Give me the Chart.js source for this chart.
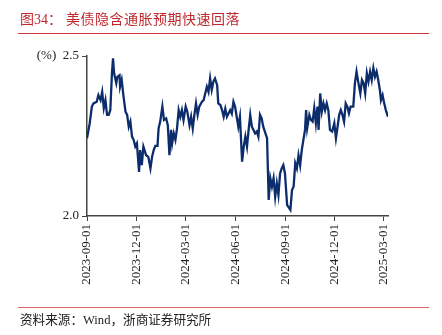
<!DOCTYPE html>
<html>
<head>
<meta charset="utf-8">
<script src="https://cdn.jsdelivr.net/npm/chart.js@4/dist/chart.umd.min.js"></script>
<style>
    body { margin: 0; background: #fff; }
    #wrap { position: relative; width: 442px; height: 335px; overflow: hidden; }
    #chart { position: absolute; left: 0; top: 0; }
    .title {
        position: absolute; left: 20px; top: 11px;
        font: 14px/17px "Liberation Serif", "Noto Sans CJK SC", serif;
        color: #c0282e; white-space: nowrap;
    }
    .title .main { margin-left: 4px; letter-spacing: 0.5px; }
    .rule { position: absolute; left: 18px; width: 411px; height: 1.5px; }
    .source {
        position: absolute; left: 20px; top: 312px;
        font: 12.6px/16px "Liberation Serif", "Noto Sans CJK SC", serif;
        color: #222; white-space: nowrap;
    }
</style>
</head>
<body>
<div id="wrap">
    <canvas id="chart" width="442" height="335"></canvas>
    <div class="title">图34：<span class="main">美债隐含通胀预期快速回落</span></div>
    <div class="rule" style="top:32.5px;background:#d03434;"></div>
    <div class="rule" style="top:306.5px;background:#e06262;"></div>
    <div class="source">资料来源：Wind，浙商证券研究所</div>
</div>
<script>
// calendar days counted from 2023-09-01
const START = "2023-09-01";
const dayOffsets = [0, 5, 9, 12, 18, 21, 25, 28, 31, 34, 37, 40, 43, 46, 48, 50, 54, 56, 60, 61, 64, 67, 71, 74, 77, 80, 83, 86, 89, 92, 96, 98, 101, 104, 109, 113, 117, 120, 123, 126, 130, 132, 135, 139, 142, 146, 149, 152, 155, 157, 160, 163, 166, 169, 172, 175, 178, 182, 185, 189, 192, 195, 198, 201, 204, 207, 212, 215, 218, 221, 224, 227, 230, 233, 236, 240, 242, 246, 249, 252, 255, 258, 264, 267, 270, 273, 276, 279, 282, 286, 289, 292, 295, 298, 301, 304, 307, 310, 313, 316, 319, 322, 325, 329, 332, 335, 338, 341, 344, 347, 350, 353, 356, 359, 362, 365, 369, 371, 375, 378, 381, 384, 387, 390, 393, 396, 399, 402, 404, 406, 410, 413, 416, 419, 422, 425, 427, 430, 433, 436, 439, 442, 445, 448, 452, 456, 459, 462, 465, 468, 471, 474, 477, 480, 483, 486, 491, 494, 497, 500, 504, 507, 510, 513, 516, 519, 522, 525, 528, 531, 534, 537, 540, 542, 545, 548, 551, 555];

// 10Y breakeven inflation, %
const breakeven = [2.243, 2.29, 2.342, 2.352, 2.357, 2.378, 2.362, 2.388, 2.337, 2.362, 2.316, 2.316, 2.331, 2.446, 2.493, 2.446, 2.415, 2.435, 2.44, 2.404, 2.425, 2.378, 2.326, 2.316, 2.279, 2.295, 2.248, 2.238, 2.217, 2.227, 2.138, 2.206, 2.159, 2.217, 2.19, 2.185, 2.149, 2.185, 2.206, 2.219, 2.219, 2.274, 2.295, 2.342, 2.30, 2.305, 2.284, 2.19, 2.269, 2.227, 2.258, 2.238, 2.274, 2.331, 2.31, 2.331, 2.30, 2.342, 2.326, 2.284, 2.31, 2.274, 2.316, 2.352, 2.316, 2.342, 2.357, 2.362, 2.383, 2.404, 2.388, 2.43, 2.394, 2.42, 2.43, 2.409, 2.352, 2.347, 2.331, 2.31, 2.335, 2.31, 2.331, 2.32, 2.357, 2.342, 2.31, 2.279, 2.31, 2.17, 2.217, 2.248, 2.217, 2.269, 2.316, 2.279, 2.269, 2.258, 2.264, 2.248, 2.316, 2.305, 2.279, 2.258, 2.243, 2.05, 2.118, 2.092, 2.118, 2.06, 2.102, 2.066, 2.133, 2.149, 2.159, 2.133, 2.034, 2.029, 2.019, 2.081, 2.092, 2.165, 2.149, 2.19, 2.159, 2.206, 2.238, 2.269, 2.331, 2.274, 2.316, 2.30, 2.295, 2.337, 2.29, 2.342, 2.269, 2.383, 2.326, 2.352, 2.331, 2.352, 2.331, 2.269, 2.264, 2.29, 2.243, 2.279, 2.316, 2.331, 2.316, 2.295, 2.352, 2.342, 2.321, 2.342, 2.342, 2.415, 2.451, 2.42, 2.383, 2.425, 2.415, 2.383, 2.446, 2.42, 2.451, 2.425, 2.462, 2.435, 2.451, 2.425, 2.394, 2.362, 2.378, 2.352, 2.331, 2.31];

const tickDates = ["2023-09-01", "2023-12-01", "2024-03-01", "2024-06-01", "2024-09-01", "2024-12-01", "2025-03-01"];
const yTicks = [2.0, 2.5];

function dayOf(dateStr) {
    const [y, m, d] = dateStr.split("-").map(Number);
    const [y0, m0, d0] = START.split("-").map(Number);
    return Math.round((Date.UTC(y, m - 1, d) - Date.UTC(y0, m0 - 1, d0)) / 86400000);
}

const tickDays = tickDates.map(dayOf);
const axisColor = "#444";
const tickFont = { family: "'Liberation Serif', serif", size: 13 };

new Chart(document.getElementById("chart"), {
    type: "line",
    data: {
        datasets: [{
            data: dayOffsets.map((d, i) => ({ x: d, y: breakeven[i] })),
            borderColor: "#0c2c6c",
            borderWidth: 2.3,
            pointRadius: 0,
            tension: 0,
            fill: false,
        }],
    },
    options: {
        responsive: false,
        animation: false,
        layout: { padding: { left: 0, top: 56, right: 54, bottom: 38 } },
        plugins: { legend: { display: false }, tooltip: { enabled: false } },
        scales: {
            x: {
                type: "linear",
                min: 0,
                max: dayOffsets[dayOffsets.length - 1],
                afterBuildTicks: (scale) => { scale.ticks = tickDays.map(v => ({ value: v })); },
                afterFit: (scale) => { scale.height = 81; },
                ticks: {
                    autoSkip: false,
                    minRotation: 90,
                    maxRotation: 90,
                    padding: 3,
                    color: "#222",
                    font: tickFont,
                    callback: (v) => tickDates[tickDays.indexOf(v)],
                },
                grid: { drawOnChartArea: false, drawTicks: true, tickLength: 5, color: axisColor },
                border: { color: axisColor, width: 1.5 },
            },
            y: {
                min: 2.0,
                max: 2.5,
                afterBuildTicks: (scale) => { scale.ticks = yTicks.map(v => ({ value: v })); },
                afterFit: (scale) => { scale.width = 87; },
                ticks: {
                    padding: 3,
                    color: "#222",
                    font: tickFont,
                    // the unit sits on the same line as the top label
                    callback: (v) => v === 2.5 ? "(%)  2.5" : v.toFixed(1),
                },
                grid: { drawOnChartArea: false, drawTicks: true, tickLength: 5, color: axisColor },
                border: { color: axisColor, width: 1.5 },
            },
        },
    },
});
</script>
</body>
</html>
